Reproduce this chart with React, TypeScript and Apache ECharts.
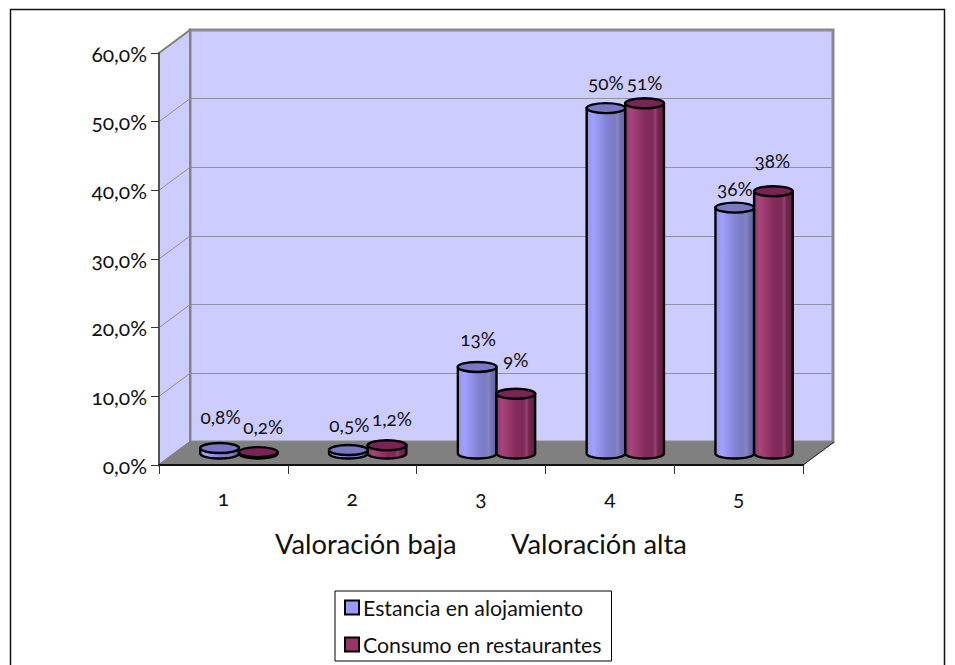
import React, { useEffect, useRef } from "react";
import * as echarts from "echarts";

const categories = ["1", "2", "3", "4", "5"];
const estancia = [0.8, 0.5, 12.6, 50.3, 35.8];
const consumo = [0.2, 1.2, 8.7, 51, 38.2];
const estanciaLabels = ["0,8%", "0,5%", "13%", "50%", "36%"];
const consumoLabels = ["0,2%", "1,2%", "9%", "51%", "38%"];
const yTicks = [0, 10, 20, 30, 40, 50, 60];

const FONT = "Lato, 'Open Sans', sans-serif";
const DX = 31;
const DY = 23;
const estanciaOffsets = [[1, -32], [1, -26], [1, -28], [0, -26], [0, -19]];
const consumoOffsets = [[5, -26], [5, -27], [0, -34], [0, -21], [-1, -31]];

const bodyGrad = (stops: [number, string][]) =>
  new echarts.graphic.LinearGradient(0, 0, 1, 0, stops.map(([offset, color]) => ({ offset, color })));

function cylinder(side: number, labels: string[], offsets: number[][], fillStops: [number, string][], topColor: string) {
  return (_params: any, api: any) => {
    const i = api.value(0);
    const v = api.value(1);
    const band = api.size([1, 0])[0];
    const base = api.coord([i, 0]);
    const top = api.coord([i, v]);
    const rx = band * 0.15;
    const ry = 5;
    const cx = base[0] + DX / 2 + side * rx;
    const yb = base[1] - DY / 2;
    const yt = top[1] - DY / 2;
    const pts: number[][] = [[cx - rx, yt]];
    for (let a = 0; a <= 32; a++) {
      const t = Math.PI - (a / 32) * Math.PI;
      pts.push([cx + rx * Math.cos(t), yb + ry * Math.sin(t)]);
    }
    pts.push([cx + rx, yt]);
    return {
      type: "group",
      children: [
        { type: "polygon", shape: { points: pts }, style: { fill: bodyGrad(fillStops), stroke: "#000", lineWidth: 2.4 } },
        { type: "ellipse", shape: { cx, cy: yt, rx, ry }, style: { fill: topColor, stroke: "#000", lineWidth: 2.4 } },
        {
          type: "text",
          z2: 10,
          style: {
            text: labels[i],
            x: cx + offsets[i][0],
            y: yt + offsets[i][1],
            align: "center",
            verticalAlign: "middle",
            fill: "#111",
            fontSize: 19,
            fontFamily: FONT,
          },
        },
      ],
    };
  };
}

function shell(params: any, api: any) {
  const { x, y, width, height } = params.coordSys;
  const b = y + height;
  const r = x + width;
  const children: any[] = [
    {
      type: "polygon",
      shape: { points: [[x, y], [x + DX, y - DY], [x + DX, b - DY], [x, b]] },
      style: { fill: "#ccccff", stroke: "#808080", lineWidth: 2 },
    },
    {
      type: "polygon",
      shape: { points: [[x, b], [r, b], [r + DX, b - DY], [x + DX, b - DY]] },
      style: { fill: "#808080", stroke: "#808080", lineWidth: 1 },
    },
    { type: "line", shape: { x1: r, y1: b, x2: r + DX, y2: b - DY }, style: { stroke: "#222", lineWidth: 1 } },
  ];
  yTicks.slice(1, -1).forEach((t) => {
    const p = api.coord([0, t]);
    children.push({
      type: "line",
      shape: { x1: x, y1: p[1], x2: x + DX, y2: p[1] - DY },
      style: { stroke: "#8f8f9f", lineWidth: 1 },
    });
  });
  return { type: "group", children };
}

export default function App() {
  const ref = useRef<HTMLDivElement>(null);
  useEffect(() => {
    document.body.style.margin = "0";
    const chart = echarts.init(ref.current!, undefined, { renderer: "svg" });
    const blueStops: [number, string][] = [[0, "#9696ee"], [0.18, "#a0a0ff"], [0.55, "#8080d0"], [0.72, "#7b7bc0"], [0.8, "#8686c4"], [0.86, "#7474b4"], [1, "#60609c"]];
    const redStops: [number, string][] = [[0, "#8f3568"], [0.14, "#a8447a"], [0.5, "#862c5c"], [0.7, "#7e2a58"], [0.78, "#94456f"], [0.84, "#742650"], [1, "#5c2040"]];
    chart.setOption({
      animation: false,
      textStyle: { fontFamily: FONT },
      grid: [
        { left: 159, top: 53, width: 644, height: 412 },
        { left: 190, top: 30, width: 643, height: 412, show: true, backgroundColor: "#ccccff", borderColor: "#888888", borderWidth: 3 },
      ],
      xAxis: [
        {
          type: "category",
          data: categories,
          gridIndex: 0,
          z: 6,
          axisLine: { lineStyle: { color: "#111", width: 2 } },
          axisTick: { show: true, length: 9, lineStyle: { color: "#333", width: 1 } },
          axisLabel: { color: "#111", fontSize: 21, margin: 22, fontFamily: FONT },
        },
        { type: "category", data: categories, gridIndex: 1, show: false },
      ],
      yAxis: [
        {
          type: "value",
          min: 0,
          max: 60,
          interval: 10,
          gridIndex: 0,
          z: 6,
          splitLine: { show: false },
          axisLine: { show: true, lineStyle: { color: "#555", width: 2 } },
          axisTick: { show: true, length: 8, lineStyle: { color: "#333", width: 1 } },
          axisLabel: {
            color: "#111",
            fontSize: 21,
            margin: 12,
            fontFamily: FONT,
            formatter: (v: number) => v.toFixed(1).replace(".", ",") + "%",
          },
        },
        {
          type: "value",
          min: 0,
          max: 60,
          interval: 10,
          gridIndex: 1,
          axisLine: { show: false },
          axisTick: { show: false },
          axisLabel: { show: false },
          splitLine: { show: true, lineStyle: { color: "#8f8f9f", width: 1 } },
        },
      ],
      legend: {
        orient: "vertical",
        left: 335,
        top: 591,
        padding: [6, 10, 6, 9],
        backgroundColor: "#fff",
        borderColor: "#000",
        borderWidth: 1,
        borderRadius: 0,
        icon: "rect",
        itemWidth: 14,
        itemHeight: 14,
        itemGap: 16,
        data: ["Estancia en alojamiento", "Consumo en restaurantes"],
        textStyle: { fontSize: 21.3, color: "#111", fontFamily: FONT, padding: [0, 0, 0, -1] },
        itemStyle: { borderColor: "#000", borderWidth: 2 },
      },
      graphic: [
        { type: "rect", z: -5, shape: { x: 10.5, y: 9.5, width: 934, height: 720 }, style: { fill: "#fff", stroke: "#111", lineWidth: 1.5 } },
        { type: "text", z: 5, x: 275, y: 530, style: { text: "Valoración baja", fontSize: 27.3, fontFamily: FONT, fill: "#111" } },
        { type: "text", z: 5, x: 511, y: 530, style: { text: "Valoración alta", fontSize: 27.3, fontFamily: FONT, fill: "#111" } },
      ],
      series: [
        { type: "custom", name: "shell", z: 1, silent: true, clip: false, renderItem: shell, data: [[0, 0]], encode: { x: 0, y: 1 } },
        {
          type: "custom",
          name: "Estancia en alojamiento",
          z: 8,
          clip: false,
          itemStyle: { color: "#9999ff" },
          renderItem: cylinder(-1, estanciaLabels, estanciaOffsets, blueStops, "#7878c4"),
          data: estancia.map((v, i) => [i, v]),
          encode: { x: 0, y: 1 },
        },
        {
          type: "custom",
          name: "Consumo en restaurantes",
          z: 9,
          clip: false,
          itemStyle: { color: "#993366" },
          renderItem: cylinder(1, consumoLabels, consumoOffsets, redStops, "#7a2456"),
          data: consumo.map((v, i) => [i, v]),
          encode: { x: 0, y: 1 },
        },
      ],
    });
    return () => chart.dispose();
  }, []);
  return <div ref={ref} style={{ width: 955, height: 665, fontVariantNumeric: "oldstyle-nums" }} />;
}
